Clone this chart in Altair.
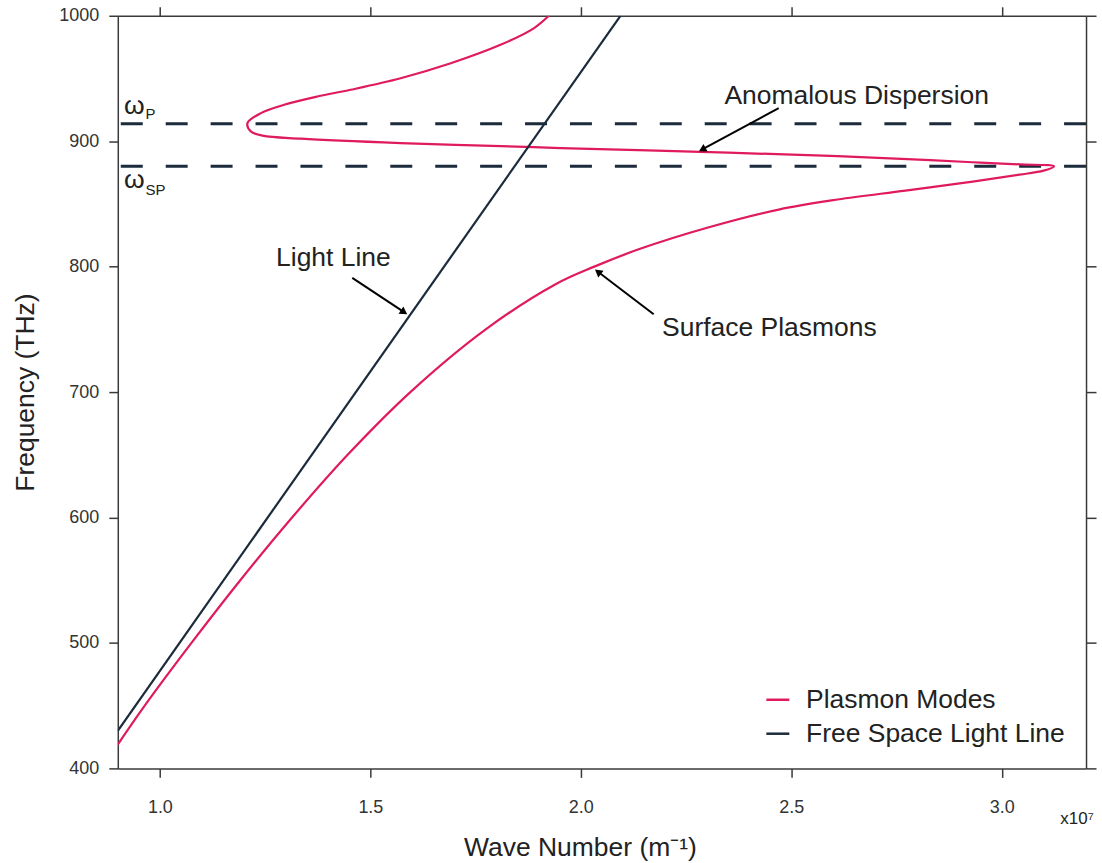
import math
import altair as alt
import pandas as pd

# ---------------- data ----------------
# wave number in units of 1e7 m^-1, frequency in THz
plasmon_k = [0.900, 0.964, 1.075, 1.191, 1.314, 1.446, 1.595, 1.774, 1.940, 2.032,
             2.139, 2.300, 2.470, 2.610, 2.771, 2.935, 3.042, 3.099, 3.124,
             3.044, 2.949, 2.830, 2.593, 2.284, 1.952, 1.888, 1.572, 1.335, 1.244,
             1.216, 1.208, 1.240, 1.295, 1.374, 1.453, 1.572, 1.691, 1.809, 1.888, 1.924]
plasmon_f = [419.0, 450.0, 500.0, 550.0, 600.0, 650.0, 700.0, 750.0, 786.0, 800.0,
             814.0, 831.0, 845.5, 853.5, 860.6, 868.0, 873.3, 876.5, 880.0,
             881.5, 882.9, 884.9, 888.3, 891.5, 894.5, 895.3, 898.5, 902.0, 904.4,
             907.8, 914.4, 922.4, 929.0, 935.6, 941.0, 950.2, 962.1, 976.8, 990.0, 1000.0]
light_k = [0.900, 2.094]
light_f = [430.0, 1000.0]

omega_p = 914
omega_sp = 880

x_ticks = [1.0, 1.5, 2.0, 2.5, 3.0]
y_ticks = [400, 500, 600, 700, 800, 900, 1000]

series_names = ["Plasmon Modes", "Free Space Light Line"]
series_colors = ["#E01A5E", "#1B2B3B"]

# annotation arrows (start -> tip), in data units
arrow_k0 = [1.457, 2.173, 2.470]
arrow_f0 = [791.0, 762.0, 926.3]
arrow_k1 = [1.588, 2.033, 2.280]
arrow_f1 = [762.0, 797.8, 891.9]

# annotation texts
label_text = ["Light Line", "Surface Plasmons", "Anomalous Dispersion", "ω", "ω", "P", "SP", "x10⁷"]
label_k = [1.276, 2.193, 2.341, 0.915, 0.915, 0.966, 0.966, 3.139]
label_f = [800.4, 744.7, 929.5, 922.0, 862.7, 918.0, 857.4, 356.0]
label_size = [26.5, 26.5, 26.5, 26.5, 26.5, 15, 15, 17]

# ---------------- build tables ----------------
W, H = 970, 754
XMIN, XMAX, YMIN, YMAX = 0.9, 3.2, 400, 1000
px_k = W / (XMAX - XMIN)
px_f = H / (YMAX - YMIN)

rows = []
for i, (k, f) in enumerate(zip(plasmon_k, plasmon_f)):
    rows.append({"series": series_names[0], "k": k, "f": f, "i": i})
for i, (k, f) in enumerate(zip(light_k, light_f)):
    rows.append({"series": series_names[1], "k": k, "f": f, "i": i})
lines_df = pd.DataFrame(rows)

arr_rows = []
head_rows = []
for k0, f0, k1, f1 in zip(arrow_k0, arrow_f0, arrow_k1, arrow_f1):
    dx = (k1 - k0) * px_k
    dy = -(f1 - f0) * px_f
    L = math.hypot(dx, dy)
    ux, uy = dx / L, dy / L
    ang = math.degrees(math.atan2(dy, dx)) % 360
    back = 4.0
    hk = k1 - ux * back / px_k
    hf = f1 + uy * back / px_f
    arr_rows.append({"k": k0, "f": f0, "k2": hk, "f2": hf})
    head_rows.append({"k": hk, "f": hf, "ang": ang})
arr_df = pd.DataFrame(arr_rows)
head_df = pd.DataFrame(head_rows)

text_df = pd.DataFrame({"label": label_text, "k": label_k, "f": label_f, "fs": label_size})
dash_df = pd.DataFrame({"f": [omega_p, omega_sp]})

xs = alt.Scale(domain=[XMIN, XMAX], nice=False, zero=False)
ys = alt.Scale(domain=[YMIN, YMAX], nice=False, zero=False)

FONT = "Liberation Sans"

dashes = alt.Chart(dash_df).mark_rule(
    strokeDash=[22, 23], strokeWidth=3, color="#1B2B3B"
).encode(y=alt.Y("f:Q", scale=ys, axis=None))

lines = alt.Chart(lines_df).mark_line(
    strokeWidth=2.2, clip=True, interpolate="catmull-rom"
).encode(
    x=alt.X("k:Q", scale=xs, axis=alt.Axis(
        orient="bottom", values=x_ticks, format=".1f", title="Wave Number (m⁻¹)",
        tickSize=9, labelPadding=21, titleX=463, titleY=87,
        titleBaseline="alphabetic", titleAlign="center")),
    y=alt.Y("f:Q", scale=ys, axis=alt.Axis(
        orient="left", values=y_ticks, format="d", title="Frequency (THz)",
        tickSize=9, labelPadding=10, titlePadding=19)),
    color=alt.Color("series:N", scale=alt.Scale(domain=series_names, range=series_colors),
                    legend=alt.Legend(
                        title=None, orient="bottom-right", offset=21, padding=0,
                        symbolType="stroke", symbolSize=529, symbolStrokeWidth=2.5,
                        labelFont=FONT, labelFontSize=26.5, labelColor="#222222",
                        labelOffset=15, rowPadding=7, labelLimit=400)),
    order=alt.Order("i:Q"),
)

arrows = alt.Chart(arr_df).mark_rule(color="black", strokeWidth=2).encode(
    x=alt.X("k:Q", scale=xs, axis=alt.Axis(orient="top", values=x_ticks, labels=False,
                                           title=None, tickSize=9)),
    y=alt.Y("f:Q", scale=ys, axis=alt.Axis(orient="right", values=y_ticks, labels=False,
                                           title=None, tickSize=10)),
    x2="k2:Q",
    y2="f2:Q",
)

heads = alt.Chart(head_df).mark_point(
    shape="triangle-right", filled=True, size=75, color="black", opacity=1
).encode(
    x=alt.X("k:Q", scale=xs, axis=None),
    y=alt.Y("f:Q", scale=ys, axis=None),
    angle=alt.Angle("ang:Q", scale=None),
)

texts = alt.Chart(text_df).mark_text(
    align="left", baseline="alphabetic", font=FONT, color="#222222"
).encode(
    x=alt.X("k:Q", scale=xs, axis=None),
    y=alt.Y("f:Q", scale=ys, axis=None),
    text="label:N",
    size=alt.Size("fs:Q", scale=None),
)

chart = alt.layer(dashes, lines, arrows, heads, texts).resolve_axis(
    x="independent", y="independent"
).properties(
    width=W, height=H,
    padding={"left": 12, "top": 5, "right": 5, "bottom": 5},
).configure_view(stroke=None).configure_axis(
    grid=False, domainColor="#3A3A3A", tickColor="#3A3A3A", domainWidth=1.5, tickWidth=1.5,
    labelFont=FONT, labelFontSize=18, labelColor="#333333",
    titleFont=FONT, titleFontSize=26.5, titleFontWeight="normal", titleColor="#222222",
)

chart.save("out.html", embed_options={"renderer": "svg", "actions": False})
